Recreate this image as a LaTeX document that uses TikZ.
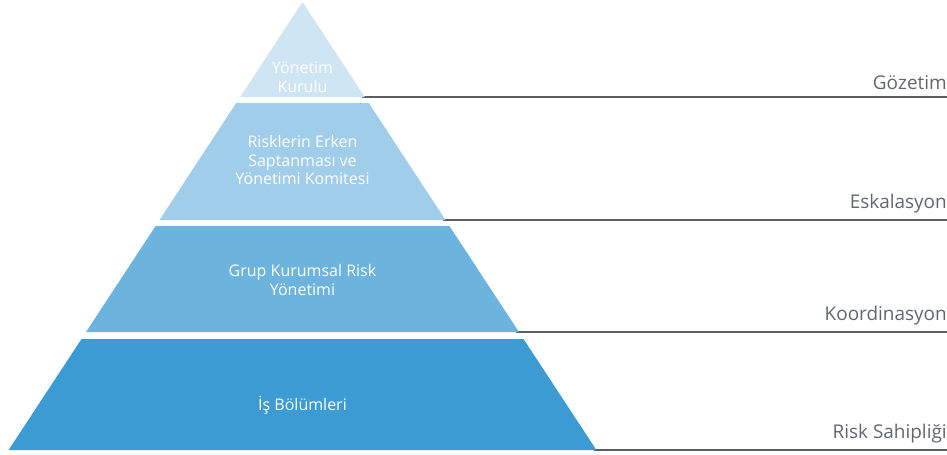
\documentclass[tikz,border=0pt]{standalone}
\usepackage{fontspec}
\setmainfont{Open Sans}
\usetikzlibrary{positioning}

\definecolor{lvlone}{HTML}{CFE5F3}
\definecolor{lvltwo}{HTML}{A0CDEA}
\definecolor{lvlthree}{HTML}{6CB3DD}
\definecolor{lvlfour}{HTML}{3D9BD3}
\definecolor{labelgray}{HTML}{5E686A}
\definecolor{linegray}{HTML}{5A5F60}

\begin{document}
\begin{tikzpicture}[x=0.75pt, y=-0.75pt]

  % Define styles
  \tikzstyle{inlabel} = [text=white, align=center, font=\fontsize{12}{14.2}\selectfont, inner sep=0pt]
  \tikzstyle{sidelabel} = [text=labelgray, anchor=south east, font=\fontsize{14.2}{16}\selectfont, inner sep=0pt]
  \tikzstyle{levelline} = [draw=linegray, line width=1.1pt]

  \useasboundingbox (0,0) rectangle (947,454);

  % Corners of the levels
  \coordinate (apex) at (302.5, 2);
  \coordinate (b1l) at (240.2, 97);   \coordinate (b1r) at (364.8, 97);
  \coordinate (t2l) at (236.2, 103);  \coordinate (t2r) at (368.8, 103);
  \coordinate (b2l) at (159.5, 220);  \coordinate (b2r) at (445.5, 220);
  \coordinate (t3l) at (155.6, 226);  \coordinate (t3r) at (449.4, 226);
  \coordinate (b3l) at (86, 332);     \coordinate (b3r) at (519, 332);
  \coordinate (t4l) at (81.5, 339);   \coordinate (t4r) at (523.5, 339);
  \coordinate (b4l) at (8.6, 450);    \coordinate (b4r) at (596.4, 450);

  % Right ends of the lines
  \coordinate (e1) at (947, 97);
  \coordinate (e2) at (947, 220);
  \coordinate (e3) at (947, 332);
  \coordinate (e4) at (947, 450);

  % Lines to the side labels
  \draw[levelline] ([xshift=-2pt]b1r) -- (e1);
  \draw[levelline] ([xshift=-2pt]b2r) -- (e2);
  \draw[levelline] ([xshift=-2pt]b3r) -- (e3);
  \draw[levelline] ([xshift=-2pt]b4r) -- (e4);

  % Pyramid levels
  \fill[lvlone] (apex) -- (b1r) -- (b1l) -- cycle;
  \fill[lvltwo] (t2l) -- (t2r) -- (b2r) -- (b2l) -- cycle;
  \fill[lvlthree] (t3l) -- (t3r) -- (b3r) -- (b3l) -- cycle;
  \fill[lvlfour] (t4l) -- (t4r) -- (b4r) -- (b4l) -- cycle;

  % Labels inside
  \node[inlabel] (kurul) at (302.5, 77) {Yönetim\\Kurulu};
  \node[inlabel] (komite) at (302.5, 160) {Risklerin Erken\\Saptanması ve\\Yönetimi Komitesi};
  \node[inlabel] (grup) at (302.5, 280) {Grup Kurumsal Risk\\Yönetimi};
  \node[inlabel] (bolum) at (302.5, 405) {İş Bölümleri};

  % Labels on the right
  \node[sidelabel] (gozetim) [above=5pt of e1, anchor=south east] {Gözetim};
  \node[sidelabel] (eskalasyon) [above=5pt of e2, anchor=south east] {Eskalasyon};
  \node[sidelabel] (koord) [above=5pt of e3, anchor=south east] {Koordinasyon};
  \node[sidelabel] (sahip) [above=5pt of e4, anchor=south east] {Risk Sahipliği};

\end{tikzpicture}
\end{document}
